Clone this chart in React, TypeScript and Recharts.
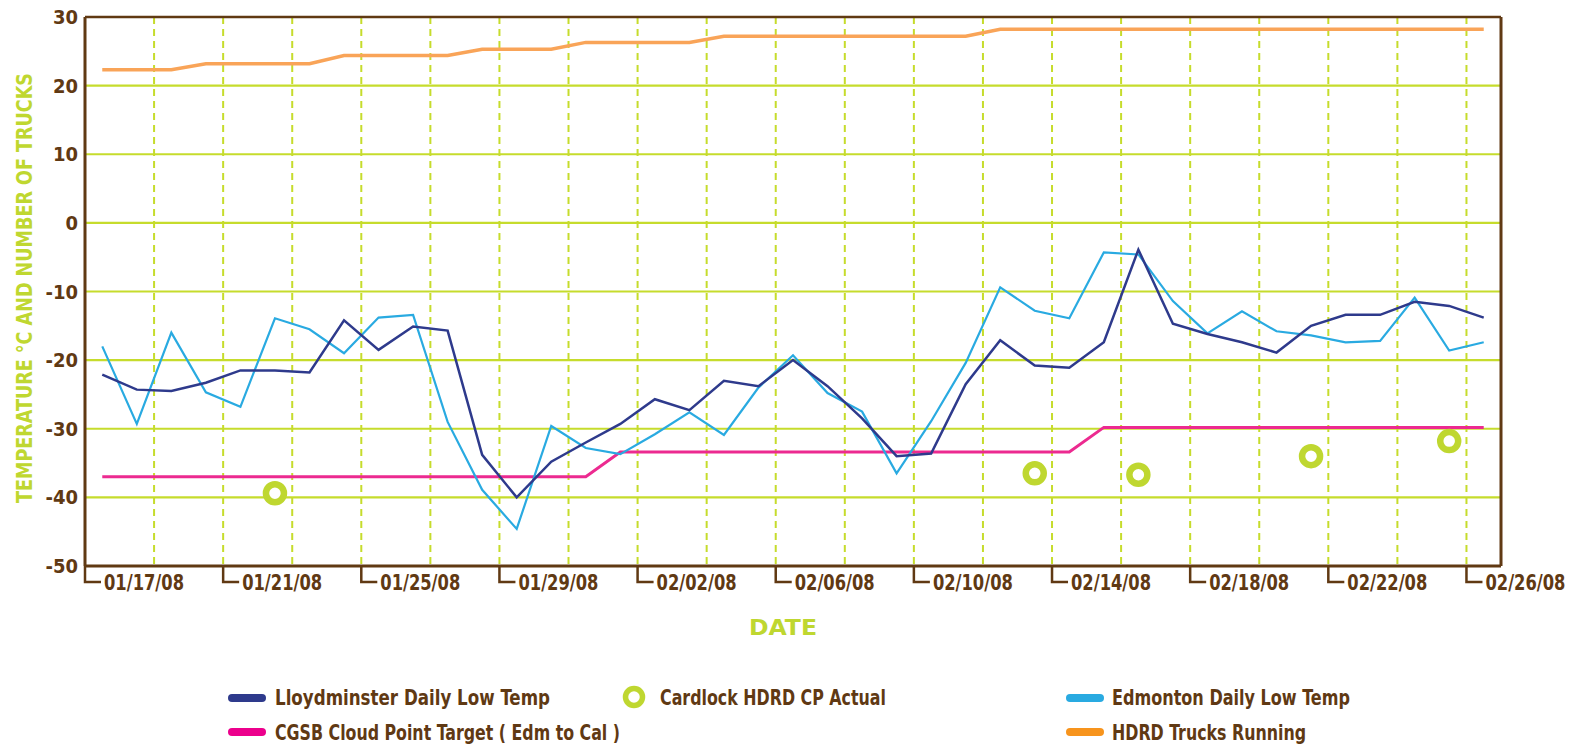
import React from 'react';
import { ComposedChart, Line, XAxis, YAxis, CartesianGrid, ReferenceLine } from 'recharts';

const dates = [
  '01/17/08', '01/18/08', '01/19/08', '01/20/08', '01/21/08', '01/22/08', '01/23/08', '01/24/08',
  '01/25/08', '01/26/08', '01/27/08', '01/28/08', '01/29/08', '01/30/08', '01/31/08', '02/01/08',
  '02/02/08', '02/03/08', '02/04/08', '02/05/08', '02/06/08', '02/07/08', '02/08/08', '02/09/08',
  '02/10/08', '02/11/08', '02/12/08', '02/13/08', '02/14/08', '02/15/08', '02/16/08', '02/17/08',
  '02/18/08', '02/19/08', '02/20/08', '02/21/08', '02/22/08', '02/23/08', '02/24/08', '02/25/08',
  '02/26/08',
];
const tickLabels: Record<number, string> = {
  0: '01/17/08', 4: '01/21/08', 8: '01/25/08', 12: '01/29/08', 16: '02/02/08', 20: '02/06/08',
  24: '02/10/08', 28: '02/14/08', 32: '02/18/08', 36: '02/22/08', 40: '02/26/08',
};

const lloydminster = [
  -22.1, -24.3, -24.5, -23.3, -21.5, -21.5, -21.8, -14.2, -18.5, -15.1,
  -15.7, -33.8, -40.0, -34.8, -32.0, -29.3, -25.7, -27.3, -23.0, -23.8,
  -20.0, -23.8, -28.5, -34.0, -33.6, -23.5, -17.1, -20.8, -21.1, -17.4,
  -3.9, -14.7, -16.2, -17.4, -18.9, -15.0, -13.4, -13.4, -11.5, -12.1,
  -13.8,
];
const edmonton = [
  -18.0, -29.3, -16.0, -24.7, -26.8, -13.9, -15.5, -19.0, -13.8, -13.4,
  -29.0, -38.9, -44.6, -29.6, -32.8, -33.7, -30.8, -27.6, -30.9, -24.0,
  -19.3, -24.8, -27.5, -36.5, -28.9, -20.4, -9.4, -12.8, -13.9, -4.3,
  -4.6, -11.4, -16.1, -12.9, -15.8, -16.4, -17.4, -17.2, -10.9, -18.6,
  -17.4,
];
const cgsbTarget = [
  -37.0, -37.0, -37.0, -37.0, -37.0, -37.0, -37.0, -37.0, -37.0, -37.0,
  -37.0, -37.0, -37.0, -37.0, -37.0, -33.4, -33.4, -33.4, -33.4, -33.4,
  -33.4, -33.4, -33.4, -33.4, -33.4, -33.4, -33.4, -33.4, -33.4, -29.8,
  -29.8, -29.8, -29.8, -29.8, -29.8, -29.8, -29.8, -29.8, -29.8, -29.8,
  -29.8,
];
const trucksRunning = [
  22.3, 22.3, 22.3, 23.2, 23.2, 23.2, 23.2, 24.4, 24.4, 24.4,
  24.4, 25.3, 25.3, 25.3, 26.3, 26.3, 26.3, 26.3, 27.2, 27.2,
  27.2, 27.2, 27.2, 27.2, 27.2, 27.2, 28.2, 28.2, 28.2, 28.2,
  28.2, 28.2, 28.2, 28.2, 28.2, 28.2, 28.2, 28.2, 28.2, 28.2,
  28.2,
];
const cardlockActual: (number | null)[] = [
  null, null, null, null, null, -39.4, null, null, null, null,
  null, null, null, null, null, null, null, null, null, null,
  null, null, null, null, null, null, null, -36.5, null, null,
  -36.7, null, null, null, null, -34.0, null, null, null, -31.8,
  null,
];
const yTicks = [-50, -40, -30, -20, -10, 0, 10, 20, 30];
const xGridTicks = [0, 2, 4, 6, 8, 10, 12, 14, 16, 18, 20, 22, 24, 26, 28, 30, 32, 34, 36, 38, 40];

const data = dates.map((d, i) => ({
  x: i + 0.5,
  date: d,
  lloyd: lloydminster[i],
  edm: edmonton[i],
  cgsb: cgsbTarget[i],
  trucks: trucksRunning[i],
  cardlock: cardlockActual[i],
}));

const FONT = "'Liberation Sans Narrow', 'DejaVu Sans Condensed', 'Liberation Sans', sans-serif";
const BROWN = '#603913';
const GREEN = '#bfd730';
const GRID = '#c6dc2c';
const NAVY = '#2e3a8c';
const CYAN = '#29aae1';
const PINK = '#ec2a90';
const ORANGE = '#f9a458';

const YTick = (props: any) => {
  const { x, y, payload } = props;
  return (
    <text x={x - 3} y={y + 7} textAnchor="end" fontFamily={FONT} fontWeight={700} fontSize={20} fill={BROWN}>
      {payload.value}
    </text>
  );
};

const XTick = (props: any) => {
  const { x, y, payload } = props;
  const label = tickLabels[payload.value];
  if (!label) return <g />;
  return (
    <g>
      <path d={`M${x},${y} V${y + 16} H${x + 16}`} stroke={BROWN} strokeWidth={2.5} fill="none" />
      <text x={x + 19} y={y + 24} fontFamily={FONT} fontWeight={700} fontSize={21} fill={BROWN} textLength={80} lengthAdjust="spacingAndGlyphs">
        {label}
      </text>
    </g>
  );
};

const LegendText = ({ x, y, w, children }: any) => (
  <text x={x} y={y} fontFamily={FONT} fontWeight={700} fontSize={21} fill={BROWN} textLength={w} lengthAdjust="spacingAndGlyphs">
    {children}
  </text>
);

const Swatch = ({ x, y, color }: any) => (
  <line x1={x + 4} y1={y} x2={x + 34} y2={y} stroke={color} strokeWidth={8} strokeLinecap="round" />
);

export default function App() {
  return (
    <div style={{ position: 'absolute', left: 0, top: 0, width: 1585, height: 749, background: '#fff' }}>
      <ComposedChart width={1585} height={749} data={data} margin={{ top: 17, right: 84, bottom: 153, left: 25 }}>
        <CartesianGrid vertical={false} stroke={GRID} strokeWidth={2.2} />
        <CartesianGrid horizontal={false} stroke={GRID} strokeWidth={2} strokeDasharray="7 5" />
        <XAxis
          dataKey="x"
          type="number"
          domain={[0, 41]}
          ticks={xGridTicks}
          interval={0}
          height={30}
          axisLine={{ stroke: BROWN, strokeWidth: 3 }}
          tickLine={false}
          tickSize={0}
          tickMargin={0}
          tick={<XTick />}
        />
        <YAxis
          type="number"
          domain={[-50, 30]}
          ticks={yTicks}
          interval={0}
          width={60}
          axisLine={{ stroke: BROWN, strokeWidth: 3 }}
          tickLine={false}
          tickSize={0}
          tickMargin={4}
          tick={<YTick />}
        />
        <ReferenceLine y={30} stroke={BROWN} strokeWidth={2.5} />
        <ReferenceLine x={41} stroke={BROWN} strokeWidth={3} />
        <Line type="linear" dataKey="cgsb" stroke={PINK} strokeWidth={3} dot={false} activeDot={false} isAnimationActive={false} />
        <Line type="linear" dataKey="trucks" stroke={ORANGE} strokeWidth={3.5} dot={false} activeDot={false} isAnimationActive={false} />
        <Line type="linear" dataKey="edm" stroke={CYAN} strokeWidth={2.2} dot={false} activeDot={false} isAnimationActive={false} />
        <Line type="linear" dataKey="lloyd" stroke={NAVY} strokeWidth={2.5} dot={false} activeDot={false} isAnimationActive={false} />
        <Line
          type="linear"
          dataKey="cardlock"
          stroke="none"
          strokeWidth={0}
          dot={{ r: 9, stroke: GREEN, strokeWidth: 6.5, fill: '#fff' }}
          activeDot={false}
          isAnimationActive={false}
        />
      </ComposedChart>
      <svg width={1585} height={749} style={{ position: 'absolute', left: 0, top: 0, pointerEvents: 'none' }}>
        <text
          x={24}
          y={288}
          transform="rotate(-90 24 288)"
          textAnchor="middle"
          dominantBaseline="central"
          fontFamily={FONT}
          fontWeight={700}
          fontSize={22}
          fill={GREEN}
          textLength={430}
          lengthAdjust="spacingAndGlyphs"
        >
          TEMPERATURE °C AND NUMBER OF TRUCKS
        </text>
        <text x={783} y={635} textAnchor="middle" fontFamily={FONT} fontWeight={700} fontSize={22} fill={GREEN} textLength={68} lengthAdjust="spacingAndGlyphs">
          DATE
        </text>
        <Swatch x={228} y={698} color={NAVY} />
        <LegendText x={275} y={705} w={275}>Lloydminster Daily Low Temp</LegendText>
        <circle cx={634} cy={697} r={8.5} stroke={GREEN} strokeWidth={5.5} fill="#fff" />
        <LegendText x={660} y={705} w={226}>Cardlock HDRD CP Actual</LegendText>
        <Swatch x={1066} y={698} color={CYAN} />
        <LegendText x={1112} y={705} w={238}>Edmonton Daily Low Temp</LegendText>
        <Swatch x={228} y={732} color={'#ec008c'} />
        <LegendText x={275} y={740} w={345}>CGSB Cloud Point Target ( Edm to Cal )</LegendText>
        <Swatch x={1066} y={732} color={'#f7941d'} />
        <LegendText x={1112} y={740} w={194}>HDRD Trucks Running</LegendText>
      </svg>
    </div>
  );
}
